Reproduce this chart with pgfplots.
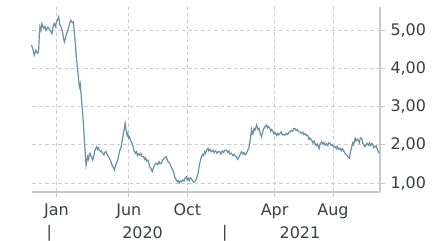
\documentclass[border=0pt]{standalone}
\usepackage{pgfplots}
\pgfplotsset{compat=1.18}
\usepackage{fontspec}
\setmainfont{DejaVu Sans}
\definecolor{linec}{HTML}{6A90A6}
\definecolor{axc}{HTML}{C8C8C8}
\definecolor{gridc}{HTML}{CDCDCD}
\definecolor{txt}{HTML}{3A3D44}
\begin{document}
\begin{tikzpicture}
\useasboundingbox (-32bp,-49bp) rectangle (404bp,192bp);
\begin{axis}[
  at={(0,0)}, anchor=south west,
  scale only axis, width=348bp, height=185bp,
  xmin=-36, xmax=690, ymin=0.765, ymax=5.61,
  axis x line=bottom, axis y line=right,
  axis line style={axc, line width=1.8bp, -},
  xtick={15,166,288,470,592},
  xticklabels={Jan,Jun,Oct,Apr,Aug},
  ytick={1,2,3,4,5},
  yticklabels={{1,00},{2,00},{3,00},{4,00},{5,00}},
  tick style={axc, line width=1bp},
  major tick length=5bp,
  tick align=outside,
  grid=major,
  major grid style={gridc, dash pattern=on 3.5bp off 3bp, line width=1bp},
  ticklabel style={font=\fontsize{16}{17}\selectfont, text=txt},
  xticklabel style={yshift=-3bp},
  yticklabel style={xshift=2bp},
  /pgf/number format/assume math mode=true,
  clip=false,
]
\addplot[linec, line width=1.2bp] coordinates {
(-37,4.61) (-34,4.50) (-31.4,4.35) (-29.5,4.42) (-27.8,4.48) (-25,4.40) (-22.4,4.43) (-21,4.80)
(-19.5,5.09) (-17.5,5.00) (-15.3,5.18) (-12,5.05) (-9,5.10) (-6.9,5.00) (-3,5.08) (0,5.04)
(3,4.98) (5.6,4.91) (8,5.10) (10.5,5.18) (13,5.10) (15.3,5.22) (17.5,5.28) (19.5,5.35)
(22,5.15) (24.5,5.09) (27,5.00) (29,4.85) (31.4,4.69) (34,4.80) (36,4.92) (38.3,4.96)
(41,5.10) (43,5.20) (45.4,5.26) (48,5.20) (50.2,5.22) (52,5.00) (54.4,4.65) (56.5,4.30)
(59.2,3.95) (61,3.75) (62.8,3.52) (64.5,3.60) (66.3,3.34) (68,3.10) (69.7,2.83) (71.5,2.50)
(73.2,2.12) (75,1.80) (76.8,1.47) (78.5,1.58) (80.1,1.69) (82,1.62) (83.5,1.75) (85.1,1.78)
(87,1.70) (88.5,1.68) (90.6,1.60) (93,1.72) (95,1.85) (97,1.90) (99,1.95) (101,1.88)
(102.5,1.92) (104.6,1.86) (107,1.82) (109,1.84) (111.5,1.78) (114,1.74) (116,1.80) (118.6,1.82)
(121,1.75) (123,1.70) (125.5,1.65) (128,1.58) (130,1.50) (133,1.42) (136,1.34) (138,1.45)
(140,1.52) (142.9,1.60) (145,1.72) (147,1.85) (150,1.95) (152,2.10) (154.8,2.30) (156.5,2.42)
(158.4,2.56) (160,2.40) (162.6,2.25) (164,2.30) (165.5,2.18) (167.4,2.21) (170,2.10) (173,2.04)
(175,1.95) (177,1.85) (179.9,1.78) (182,1.82) (184,1.72) (186,1.76) (188.3,1.73) (191,1.78)
(193,1.70) (196.7,1.69) (199,1.62) (201,1.66) (203,1.58) (205.6,1.60) (208,1.50) (210,1.42)
(212,1.38) (214.9,1.30) (217,1.38) (219,1.45) (221,1.50) (223.2,1.52) (226,1.48) (229,1.56)
(231,1.50) (233.7,1.52) (236,1.58) (238,1.62) (241,1.66) (244.1,1.69) (246,1.62) (248,1.55)
(251,1.52) (253,1.46) (255,1.40) (258,1.34) (260,1.25) (262,1.15) (265,1.08) (267,1.04)
(269,1.06) (271,1.00) (273,1.05) (275.5,1.03) (278,1.08) (281,1.05) (283,1.12) (286,1.16)
(288,1.08) (290,1.12) (292,1.06) (294,1.14) (296.4,1.12) (299,1.06) (301,1.02) (303.3,1.03)
(306,1.08) (308,1.15) (310.3,1.25) (312,1.38) (314,1.52) (317.4,1.69) (320,1.75) (322,1.72)
(324.3,1.82) (326,1.78) (328,1.86) (331.2,1.91) (333,1.84) (335,1.88) (338,1.82) (341.6,1.86)
(344,1.80) (347,1.84) (350,1.78) (352.1,1.82) (355.6,1.82) (358,1.76) (361,1.84) (364,1.80)
(366,1.86) (369.7,1.86) (372,1.80) (375,1.84) (377,1.76) (380.1,1.78) (383,1.72) (386,1.75)
(388,1.70) (390.6,1.69) (393,1.62) (395,1.66) (397,1.72) (401,1.82) (404,1.76) (406,1.80)
(409,1.74) (411.5,1.78) (414,1.85) (417,1.95) (419,2.10) (420.5,2.25) (422,2.39) (423.5,2.28)
(425.3,2.30) (427,2.42) (429,2.38) (432.4,2.52) (434,2.46) (435.5,2.40) (437.9,2.43) (440,2.30)
(442.9,2.21) (444.5,2.30) (446,2.38) (447.7,2.43) (450,2.48) (453.3,2.52) (455,2.44) (457,2.48)
(460.3,2.43) (462,2.36) (464,2.40) (467.2,2.34) (469,2.28) (471,2.32) (474.3,2.25) (476,2.30)
(478,2.26) (481.2,2.30) (484,2.34) (486,2.26) (488,2.28) (491.6,2.25) (494,2.30) (497,2.27)
(500,2.33) (502.1,2.34) (505,2.38) (508,2.36) (510,2.42) (512.6,2.43) (515,2.38) (518,2.40)
(520,2.34) (523,2.34) (526,2.30) (529,2.33) (531,2.27) (533.5,2.30) (536,2.24) (538,2.26)
(540.4,2.21) (542,2.14) (544,2.18) (547.5,2.12) (550,2.05) (552,2.10) (554.4,2.04) (557,1.98)
(559,2.02) (561.3,1.95) (563,1.90) (565,2.02) (568.4,2.08) (571,2.02) (573,2.06) (575.3,1.99)
(578,2.03) (581,1.98) (583,2.05) (585.8,2.04) (588,1.98) (591,2.00) (593,1.94) (596.2,1.95)
(599,1.90) (601,1.96) (604,1.88) (606.7,1.91) (609,1.85) (611,1.90) (613.6,1.86) (616,1.80)
(618,1.76) (620.7,1.73) (623,1.68) (626.2,1.65) (628,1.80) (631.2,1.95) (633,2.05) (635,2.00)
(638.1,2.17) (640,2.10) (642,2.15) (645,2.12) (647,2.06) (649,2.18) (652.1,2.17) (654,2.05)
(656,2.00) (659,1.95) (661,2.00) (663,2.04) (665.9,1.99) (668,2.05) (670,1.98) (673.1,2.04)
(675,2.00) (677,1.92) (679.9,1.95) (682,1.98) (684.7,1.86) (686.5,1.82) (688.9,1.78)
};
\node[font=\fontsize{16}{17}\selectfont, text=txt, anchor=north] at (axis cs:0,0.765) [yshift=-30bp] {|};
\node[font=\fontsize{16}{17}\selectfont, text=txt, anchor=north] at (axis cs:366,0.765) [yshift=-30bp] {|};
\node[font=\fontsize{16}{17}\selectfont, text=txt, anchor=north] at (axis cs:194.6,0.765) [yshift=-31bp] {2020};
\node[font=\fontsize{16}{17}\selectfont, text=txt, anchor=north] at (axis cs:523,0.765) [yshift=-31bp] {2021};
\end{axis}
\end{tikzpicture}
\end{document}
